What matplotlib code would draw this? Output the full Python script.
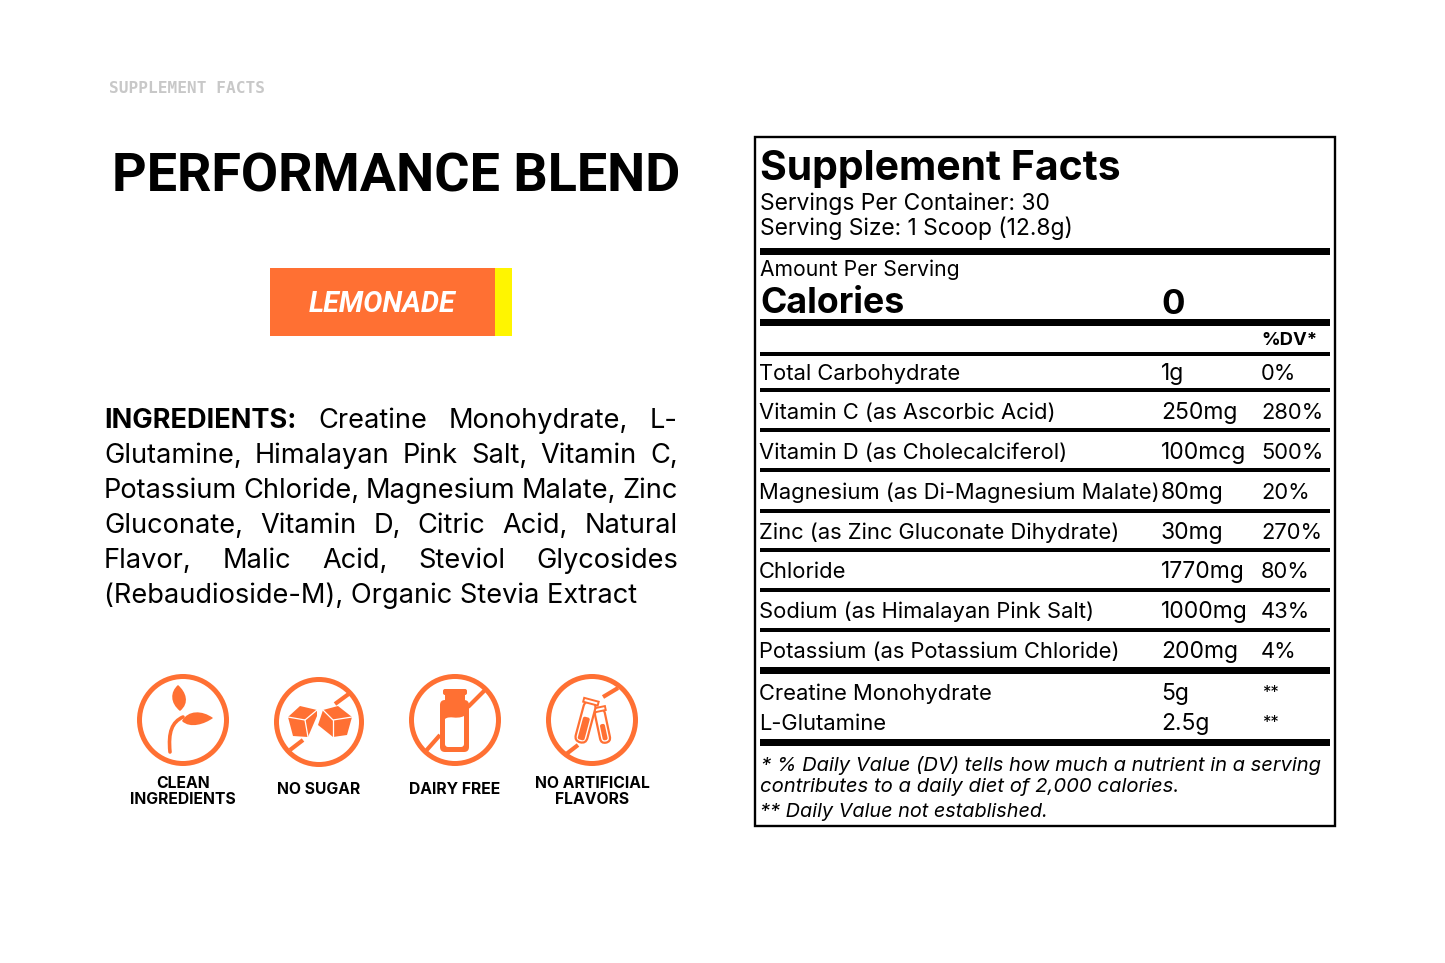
import matplotlib
matplotlib.use("Agg")
import matplotlib.pyplot as plt
from matplotlib.patches import Circle, Polygon, Rectangle, FancyBboxPatch, PathPatch
from matplotlib.path import Path
from matplotlib.transforms import Affine2D

ORANGE = "#FF7033"
YELLOW = "#FFF500"
LABEL_FONT = "Inter"

# nutrition rows
row_names = ["Total Carbohydrate", "Vitamin C (as Ascorbic Acid)", "Vitamin D (as Cholecalciferol)",
             "Magnesium (as Di-Magnesium Malate)", "Zinc (as Zinc Gluconate Dihydrate)", "Chloride",
             "Sodium (as Himalayan Pink Salt)", "Potassium (as Potassium Chloride)"]
row_amounts = ["1g", "250mg", "100mcg", "80mg", "30mg", "1770mg", "1000mg", "200mg"]
row_dv = ["0%", "280%", "500%", "20%", "270%", "80%", "43%", "4%"]
row_baselines = [380, 419, 459, 499, 539, 578, 618, 658]
row_rules = [390, 430, 470, 511, 550, 590, 630]

blend_names = ["Creatine Monohydrate", "L-Glutamine"]
blend_amounts = ["5g", "2.5g"]
blend_dv = ["**", "**"]
blend_baselines = [700, 730]

ingredient_lines = [
    ["Creatine", "Monohydrate,", "L-"],
    ["Glutamine,", "Himalayan", "Pink", "Salt,", "Vitamin", "C,"],
    ["Potassium", "Chloride,", "Magnesium", "Malate,", "Zinc"],
    ["Gluconate,", "Vitamin", "D,", "Citric", "Acid,", "Natural"],
    ["Flavor,", "Malic", "Acid,", "Steviol", "Glycosides"],
]
ingredient_last = "(Rebaudioside-M), Organic Stevia Extract"
ingredient_baselines = [428, 463, 498, 533, 568, 603]

badge_labels = ["CLEAN\nINGREDIENTS", "NO SUGAR", "DAIRY FREE", "NO ARTIFICIAL\nFLAVORS"]
badge_x = [183, 319, 455, 592]
badge_y = [720, 722, 720, 720]
badge_r = [43.5, 42.5, 43.5, 43.5]

fig = plt.figure(figsize=(14.45, 9.63), dpi=100, facecolor="white")
ax = fig.add_axes([0, 0, 1, 1])
ax.set_xlim(0, 1445)
ax.set_ylim(963, 0)
ax.axis("off")


def label(x, y, s, size=15.8, weight="normal", **kw):
    kw.setdefault("family", LABEL_FONT)
    kw.setdefault("color", "black")
    return ax.text(x, y, s, fontsize=size, fontweight=weight, va="baseline", **kw)


def text_width(t):
    return t.get_window_extent(fig.canvas.get_renderer()).width


def rule(y0, y1, x0=760, x1=1330):
    ax.add_patch(Rectangle((x0, y0), x1 - x0, y1 - y0, fc="black", ec="none"))


# left column header
ax.text(109, 93, "SUPPLEMENT FACTS", family="DejaVu Sans Mono", fontweight="bold", fontsize=11.6,
        color="#C8C8C8", va="baseline")
ax.text(396, 192, "PERFORMANCE BLEND", family="Roboto", fontweight="bold", fontsize=38.9,
        ha="center", va="baseline")

ax.add_patch(Rectangle((270, 268), 225, 68, fc=ORANGE, ec="none"))
ax.add_patch(Rectangle((495, 268), 17, 68, fc=YELLOW, ec="none"))
ax.text(382.5, 312, "LEMONADE", family="Roboto", fontweight="bold", style="italic",
        fontsize=20.7, color="white", ha="center", va="baseline")

# ingredients, justified by hand word by word
LEFT, RIGHT = 104, 678
head = label(LEFT, ingredient_baselines[0], "INGREDIENTS:", size=19.6, weight="bold")
for i, words in enumerate(ingredient_lines):
    start = LEFT
    if i == 0:
        start = LEFT + text_width(head)
    parts = [label(start, ingredient_baselines[i], w, size=19.6) for w in words]
    widths = [text_width(p) for p in parts]
    gap = (RIGHT - start - sum(widths)) / (len(words) - (0 if i == 0 else 1))
    x = start + (gap if i == 0 else 0)
    for p, w in zip(parts, widths):
        p.set_x(x)
        x += w + gap
label(LEFT, ingredient_baselines[5], ingredient_last, size=19.6)

# badges
for x, y, r, s in zip(badge_x, badge_y, badge_r, badge_labels):
    ax.add_patch(Circle((x, y), r, fc="none", ec=ORANGE, lw=3.6))
    if "\n" in s:
        a, b = s.split("\n")
        ax.text(x, 788, a, family=LABEL_FONT, fontweight="bold", fontsize=11.3, ha="center", va="baseline")
        ax.text(x, 804, b, family=LABEL_FONT, fontweight="bold", fontsize=11.3, ha="center", va="baseline")
    else:
        ax.text(x, 794, s, family=LABEL_FONT, fontweight="bold", fontsize=11.3, ha="center", va="baseline")


def leaf(base, c1, c2, tip, c3, c4):
    codes = [Path.MOVETO] + [Path.CURVE4] * 6
    ax.add_patch(PathPatch(Path([base, c1, c2, tip, c3, c4, base], codes), fc=ORANGE, ec="none"))


def slash(x0, y0, x1, y1):
    ax.plot([x0, x1], [y0, y1], color=ORANGE, lw=3, solid_capstyle="butt")


# leaf icon
ax.add_patch(PathPatch(Path([(170, 752), (168, 732), (172, 722), (183, 717)], [Path.MOVETO] + [Path.CURVE4] * 3),
                       fc="none", ec=ORANGE, lw=2.6, capstyle="round"))
leaf((180, 711), (170, 703), (170, 692), (178, 685), (186, 692), (190, 703))
leaf((182, 721), (188, 710), (202, 710), (213, 718), (205, 724), (190, 729))

# sugar cubes
slash(350, 693, 335, 704)
slash(303, 740, 290, 750)
cube_l = [(288, 717), (300, 706), (317, 710), (317, 716), (308, 737), (293, 736)]
cube_r = [(323, 710), (338, 706), (352, 717), (347, 735), (333, 737), (318, 725)]
for pts in (cube_l, cube_r):
    ax.add_patch(Polygon(pts, fc=ORANGE, ec="none"))
ax.plot([288, 305, 317], [717, 720, 710], color="white", lw=0.9)
ax.plot([305, 308], [720, 737], color="white", lw=0.9)
ax.plot([323, 333, 352], [710, 720, 717], color="white", lw=0.9)
ax.plot([333, 333], [720, 737], color="white", lw=0.9)

# bottle
slash(487, 688, 468, 707)
slash(440, 735, 425, 752)
ax.add_patch(FancyBboxPatch((443, 689), 24, 6, boxstyle="round,pad=0,rounding_size=2", fc=ORANGE, ec="none"))
ax.add_patch(Rectangle((445, 693), 20, 10, fc=ORANGE, ec="none"))
ax.add_patch(FancyBboxPatch((440, 700), 29, 52, boxstyle="round,pad=0,rounding_size=5", fc=ORANGE, ec="none"))
milk = [(445, 719), (450, 715), (456, 720), (464, 716), (464, 744), (464, 747), (461, 747), (448, 747),
        (445, 747), (445, 744), (445, 719)]
milk_codes = [Path.MOVETO, Path.CURVE4, Path.CURVE4, Path.CURVE4, Path.LINETO, Path.CURVE3, Path.CURVE3,
              Path.LINETO, Path.CURVE3, Path.CURVE3, Path.CLOSEPOLY]
ax.add_patch(PathPatch(Path(milk, milk_codes), fc="white", ec="none"))


def tube(cx, cy, angle, h, w, fill_from):
    tf = Affine2D().rotate_deg_around(cx, cy, angle) + ax.transData
    style = "round,pad=0,rounding_size=%g" % (w / 2)
    ax.add_patch(FancyBboxPatch((cx - w / 2, cy - h / 2), w, h, boxstyle=style,
                                fc="white", ec=ORANGE, lw=1.6, transform=tf))
    # liquid
    ax.add_patch(FancyBboxPatch((cx - w / 2 + 2.5, cy + fill_from), w - 5, h / 2 - fill_from - 2.5,
                                boxstyle="round,pad=0,rounding_size=2", fc=ORANGE, ec="none", transform=tf))
    ax.add_patch(Rectangle((cx - w / 2 - 1.5, cy - h / 2 - 2), w + 3, 4, fc="white", ec=ORANGE, lw=1.4, transform=tf))


# test tubes
slash(618, 688, 603, 697)
slash(578, 745, 565, 755)
tube(602.5, 726, -12, 34, 10, -2)
tube(585.5, 722, 15, 42, 12, -5)

# label box
ax.add_patch(Rectangle((755, 137), 580, 689, fc="none", ec="black", lw=1.7))
label(760, 180, "Supplement Facts", size=29.5, weight="bold")
label(760, 210, "Servings Per Container: 30", size=16.45)
label(760, 235, "Serving Size: 1 Scoop (12.8g)", size=16.45)
rule(248, 255)
label(760, 276, "Amount Per Serving", size=15.2)
label(760, 313, "Calories", size=25.7, weight="bold")
label(1161, 314, "0", size=25, weight="bold")
rule(319, 326)
label(1261, 345, "%DV*", size=13.3, weight="bold")
rule(352, 356)

for name, amt, dv, y in zip(row_names, row_amounts, row_dv, row_baselines):
    label(759, y, name)
    label(1161, y, amt, size=16.5)
    label(1261, y, dv, size=15.8)
for y in row_rules:
    rule(y - 2, y + 2)
rule(667, 674)

for name, amt, dv, y in zip(blend_names, blend_amounts, blend_dv, blend_baselines):
    label(759, y, name)
    label(1161, y, amt, size=16.5)
    label(1262, y - 3, dv, size=12)
rule(739, 746)

label(761, 771, "* % Daily Value (DV) tells how much a nutrient in a serving", size=14.5, style="italic")
label(760, 792, "contributes to a daily diet of 2,000 calories.", size=14.6, style="italic")
label(760, 817, "** Daily Value not established.", size=14.3, style="italic")

fig.savefig("out.png", dpi=100, facecolor="white")
